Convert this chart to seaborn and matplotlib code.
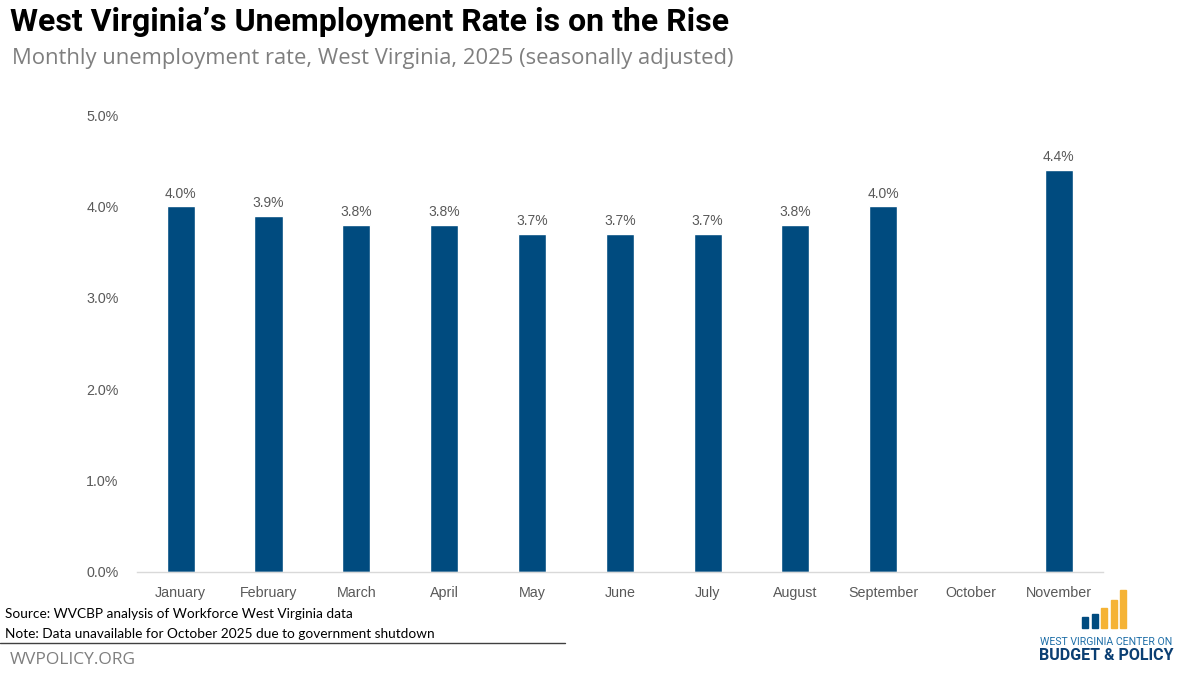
import matplotlib.pyplot as plt
import matplotlib.patches as mpatches
import matplotlib.lines as mlines
import pandas as pd
import seaborn as sns
import numpy as np

# Monthly unemployment rate, West Virginia, 2025 (October missing: shutdown)
months = ['January', 'February', 'March', 'April', 'May', 'June', 'July',
          'August', 'September', 'October', 'November']
rates = [4.0, 3.9, 3.8, 3.8, 3.7, 3.7, 3.7, 3.8, 4.0, np.nan, 4.4]
y_ticks = [0, 1, 2, 3, 4, 5]

df = pd.DataFrame({'month': months, 'rate': rates})
df_plot = df.dropna()

sns.set_theme(style='white')
plt.rcParams['font.family'] = ['Liberation Sans', 'DejaVu Sans']

BLUE = '#004B7F'
GRAY = '#595959'

fig = plt.figure(figsize=(12, 6.75), dpi=100)
ax = fig.add_axes([0.114, 0.1526, 0.805, 0.677])

sns.barplot(data=df_plot, x='month', y='rate', order=months, color=BLUE,
            width=0.32, saturation=1, ax=ax)

for c in ax.containers:
    ax.bar_label(c, fmt='%.1f%%', padding=4, fontsize=10, color=GRAY)

ax.set_ylim(0, 5)
ax.set_yticks(y_ticks)
ax.set_yticklabels([f'{t:.1f}%' for t in y_ticks])
ax.set_xlim(-0.5, len(months) - 0.5)
ax.set_xlabel('')
ax.set_ylabel('')
ax.tick_params(axis='both', labelsize=10.3, labelcolor=GRAY, length=0)
ax.tick_params(axis='y', pad=13)
ax.tick_params(axis='x', pad=10)
for s in ['top', 'right', 'left']:
    ax.spines[s].set_visible(False)
ax.spines['bottom'].set_color('#d9d9d9')
ax.spines['bottom'].set_linewidth(1)

# Titles
fig.text(0.008, 0.968, 'West Virginia\u2019s Unemployment Rate is on the Rise',
         fontsize=23, fontweight='bold', color='black', va='center',
         family=['Roboto', 'DejaVu Sans'])
fig.text(0.01, 0.914, 'Monthly unemployment rate, West Virginia, 2025 (seasonally adjusted)',
         fontsize=15.8, color='#7f7f7f', va='center', family=['Open Sans', 'DejaVu Sans'])

# Footnotes
fig.text(0.004, 0.09, 'Source: WVCBP analysis of Workforce West Virginia data',
         fontsize=9.85, color='black', va='center', family=['Lato', 'DejaVu Sans'])
fig.text(0.004, 0.061, 'Note: Data unavailable for October 2025 due to government shutdown',
         fontsize=9.85, color='black', va='center', family=['Lato', 'DejaVu Sans'])
fig.add_artist(mlines.Line2D([0, 0.471], [0.047, 0.047], color='#404040', lw=1,
                             transform=fig.transFigure))
fig.text(0.008, 0.022, 'WVPOLICY.ORG', fontsize=12.5, color='#7f7f7f', va='center',
         family=['Open Sans', 'DejaVu Sans'])

# Logo
logo_tops = [617, 614, 608, 600, 590]
logo_cols = [BLUE, BLUE, '#F5B335', '#F5B335', '#F5B335']
for i, (top, col) in enumerate(zip(logo_tops, logo_cols)):
    x0 = 1082 + i * 9.5
    fig.add_artist(mpatches.Rectangle((x0 / 1200, 1 - 628 / 675), 6 / 1200,
                                      (628 - top) / 675, color=col,
                                      transform=fig.transFigure))
fig.text(1106 / 1200, 1 - 642 / 675, 'WEST VIRGINIA CENTER ON', fontsize=7.6,
         color='#1F6FA8', ha='center', va='center', family=['Roboto', 'DejaVu Sans'])
fig.text(1106 / 1200, 1 - 656 / 675, 'BUDGET & POLICY', fontsize=11.5, fontweight='bold',
         color='#0B3F73', ha='center', va='center', family=['Roboto', 'DejaVu Sans'])

fig.savefig('out.png', dpi=100)
